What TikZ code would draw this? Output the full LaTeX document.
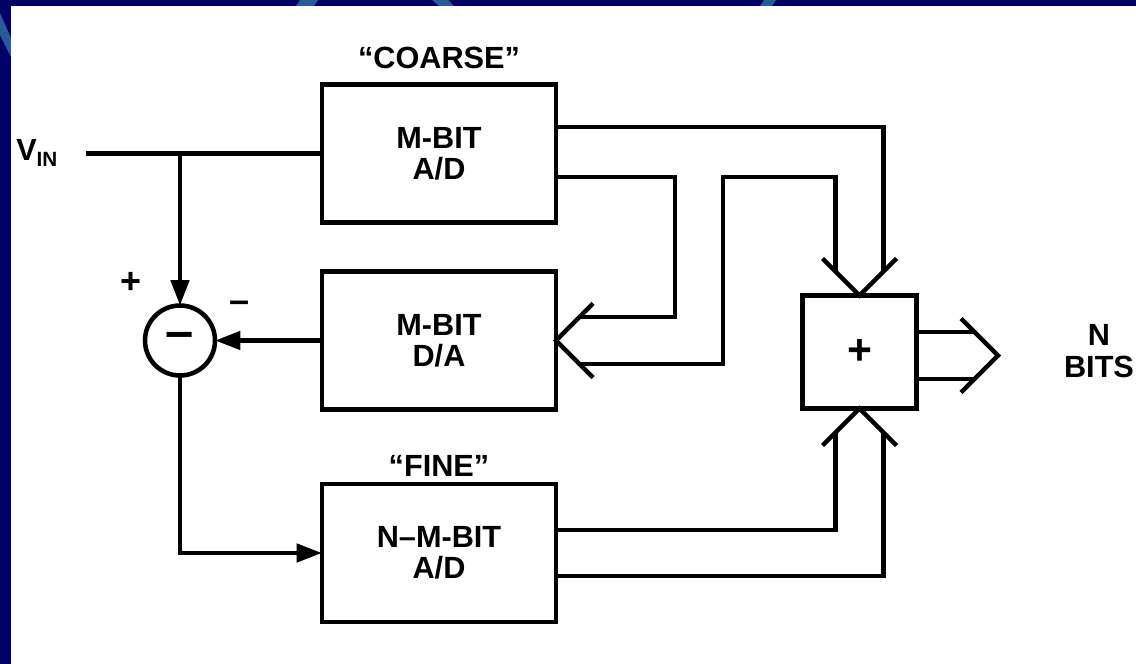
\documentclass[tikz,border=0pt]{standalone}
\usepackage{fontspec}
\setmainfont{Liberation Sans}
\usetikzlibrary{arrows.meta}
\definecolor{navybg}{RGB}{0,0,102}
\definecolor{stripeblue}{RGB}{40,92,152}
\newcommand\dgfont{\fontsize{23}{23.5}\selectfont\bfseries}
\begin{document}
\begin{tikzpicture}[x=0.75pt,y=-0.75pt,
  wire/.style={line width=3.4pt, line join=miter},
  box/.style={draw, line width=3.6pt, minimum width=175.5pt, minimum height=103.5pt,
    inner sep=0pt, outer sep=0pt, align=center, font=\dgfont},
  tip/.style={-{Triangle[length=19pt,width=13.5pt]}},
  lbl/.style={font=\dgfont, inner sep=0pt}
]
% background
\fill[navybg] (0,0) rectangle (1136,664);
\fill[stripeblue] (296,6) -- (314,6) -- (318,0) -- (300,0) -- cycle;
\fill[stripeblue] (432,0) -- (448,0) -- (454,6) -- (439,6) -- cycle;
\fill[stripeblue] (760,6) -- (772,6) -- (776,0) -- (764,0) -- cycle;
\fill[stripeblue] (0,13) -- (0,35) -- (11,57) -- (11,38) -- cycle;
\fill[white] (11,6) rectangle (1136,664);
\useasboundingbox (0,0) rectangle (1136,664);

% blocks
\node[box] (coarse) at (439,153.5) {M-BIT\\A/D};
\node[box] (dac) at (439,340.5) {M-BIT\\D/A};
\node[box] (fine) at (439,553) {N–M-BIT\\A/D};
\node[draw, line width=3.6pt, minimum width=85.5pt, minimum height=84.75pt,
  inner sep=0pt, outer sep=0pt, font=\fontsize{32}{32}\selectfont\bfseries] (adder) at (859.5,352) {+};
\node[circle, draw, line width=3.4pt, minimum size=52.5pt, inner sep=0pt, outer sep=0pt,
  font=\fontsize{38}{38}\selectfont\bfseries] (sub) at (180,340.5) {–};

% labels
\node[lbl, anchor=base] (lcoarse) at (439,68) {“COARSE”};
\node[lbl, anchor=base] (lfine) at (439,476) {“FINE”};
\node[lbl, anchor=base west] (lvin) at (16,160) {V\raisebox{-5pt}{\fontsize{15.5}{15.5}\selectfont IN}};
\node[lbl, align=center] (lbits) at (1099,351) {N\\BITS};
\node[inner sep=0pt, font=\fontsize{27}{27}\selectfont\bfseries] (lplus) at (131,283) {+};
\node[inner sep=0pt, font=\fontsize{27}{27}\selectfont\bfseries] (lminus) at (240,307) {–};

% input path
\coordinate (vin) at (86,153.5);
\coordinate (jn) at (180,153.5);
\draw[wire] (vin) -- (coarse.west);
\draw[wire,tip] (jn) -- (sub.north);
\draw[wire,tip] (dac.west) -- (sub.east);
\draw[wire,tip] (sub.south) |- (fine.west);

% D/A input bus
\coordinate (dU) at (593,303.5);
\coordinate (dL) at (593,377.5);
\coordinate (dA) at (579.5,317);
\coordinate (dB) at (579.5,364);
\draw[wire] (dU) -- (dac.east) -- (dL);
\coordinate (yC2) at (675,177);
\draw[wire] (coarse.east |- yC2) -- (yC2) |- (dA);

% adder top bus
\coordinate (aTL) at (822.5,258.5);
\coordinate (aTR) at (896.5,258.5);
\coordinate (tL) at (835.5,271.5);
\coordinate (tR) at (883.5,271.5);
\draw[wire] (aTL) -- (adder.north) -- (aTR);
\coordinate (yC1) at (883.5,127);
\draw[wire] (coarse.east |- yC1) -| (tR);
\coordinate (k1) at (723,177);
\draw[wire] (dB) -| (k1) -| (tL);

% adder bottom bus
\coordinate (aBL) at (822.5,445.5);
\coordinate (aBR) at (896.5,445.5);
\coordinate (bL) at (835.5,432.5);
\coordinate (bR) at (883.5,432.5);
\draw[wire] (aBL) -- (adder.south) -- (aBR);
\coordinate (yF1) at (835.5,530);
\coordinate (yF2) at (883.5,576);
\draw[wire] (fine.east |- yF1) -| (bL);
\draw[wire] (fine.east |- yF2) -| (bR);

% output bus
\coordinate (oT) at (998,355.5);
\coordinate (oU) at (961,318.5);
\coordinate (oD) at (961,392.5);
\coordinate (oA) at (974.5,332);
\coordinate (oB) at (974.5,379);
\draw[wire] (oU) -- (oT) -- (oD);
\draw[wire] (adder.east |- oA) -- (oA);
\draw[wire] (adder.east |- oB) -- (oB);
\end{tikzpicture}
\end{document}
